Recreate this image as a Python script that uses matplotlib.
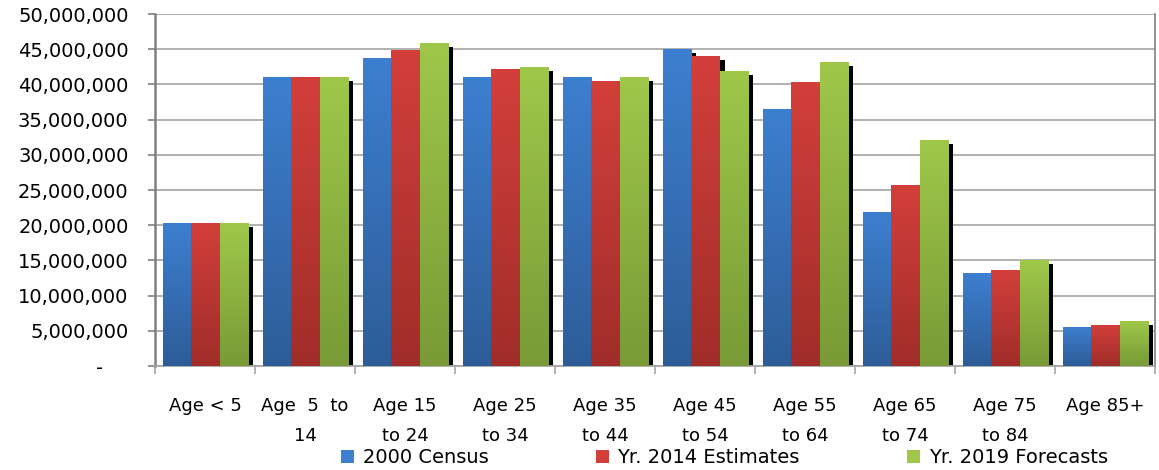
import numpy as np
import matplotlib
matplotlib.use("Agg")
import matplotlib.pyplot as plt
from matplotlib.colors import LinearSegmentedColormap
from matplotlib.patches import Patch
from matplotlib.transforms import ScaledTranslation
from matplotlib.ticker import FuncFormatter, MultipleLocator, FixedLocator

plt.rcParams["font.family"] = ["DejaVu Sans"]

categories = ["Age < 5", "Age  5  to\n14", "Age 15\nto 24", "Age 25\nto 34",
              "Age 35\nto 44", "Age 45\nto 54", "Age 55\nto 64", "Age 65\nto 74",
              "Age 75\nto 84", "Age 85+"]
series_names = ["2000 Census", "Yr. 2014 Estimates", "Yr. 2019 Forecasts"]
census_2000 = [20.3, 41.05, 43.75, 41.05, 41.05, 45.0, 36.5, 21.9, 13.2, 5.6]
est_2014 = [20.3, 41.05, 44.9, 42.2, 40.5, 44.0, 40.4, 25.7, 13.6, 5.85]
fc_2019 = [20.3, 41.05, 45.9, 42.5, 41.05, 41.9, 43.2, 32.1, 15.0, 6.4]
series = [np.array(s) * 1e6 for s in (census_2000, est_2014, fc_2019)]

# top (light) and bottom (dark) colour of each bar gradient
grad = [("#3d7fd0", "#2d5d98"), ("#d33f3b", "#a02d2a"), ("#9fc84a", "#799a36")]

fig = plt.figure(figsize=(11.59, 4.70), dpi=100)
ax = fig.add_axes([155 / 1159, 1 - 366 / 470, 1000 / 1159, 352 / 470])

x = np.arange(len(categories))
w = 0.283
offs = [-w + 0.005, 0.005, w + 0.005]

# drop shadows, shifted right/down in screen space
shift = ax.transData + ScaledTranslation(5 / 100, -4 / 100, fig.dpi_scale_trans)
for vals, o in zip(series, offs):
    sh = ax.bar(x + o, vals, w, color="black", linewidth=0, zorder=2)
    for p in sh:
        p.set_transform(shift)

ramp = np.linspace(0, 1, 256).reshape(-1, 1)
for vals, o, (top, bot) in zip(series, offs, grad):
    cmap = LinearSegmentedColormap.from_list("g", [bot, top])
    bars = ax.bar(x + o, vals, w, color=top, linewidth=0, zorder=3)
    for p in bars:
        im = ax.imshow(ramp, cmap=cmap, origin="lower", aspect="auto", zorder=3.5,
                       extent=[p.get_x(), p.get_x() + p.get_width(), 0, p.get_height()])
        im.set_clip_path(p)

ax.set_xlim(-0.5, len(categories) - 0.5)
ax.set_ylim(0, 50e6)

ax.yaxis.set_major_locator(MultipleLocator(5e6))
ax.yaxis.set_major_formatter(FuncFormatter(lambda v, _: "-    " if v == 0 else f"{v:,.0f}"))
ax.grid(axis="y", color="#ababab", linewidth=1.3, zorder=0)
ax.set_axisbelow(True)

ax.xaxis.set_major_locator(FixedLocator(np.arange(-0.5, len(categories), 1.0)))
ax.xaxis.set_major_formatter(FuncFormatter(lambda v, _: ""))
ax.xaxis.set_minor_locator(FixedLocator(x))
ax.set_xticklabels(categories, minor=True)
ax.tick_params(axis="x", which="major", length=5.5, width=1.2, color="#a6a6a6")
ax.tick_params(axis="x", which="minor", length=0, pad=22, labelsize=13)
for lab in ax.get_xticklabels(minor=True):
    lab.set_linespacing(1.9)
    lab.set_verticalalignment("top")
ax.tick_params(axis="y", length=5, width=1.2, color="#808080", pad=14, labelsize=14)

ax.spines["top"].set_visible(False)
ax.spines["left"].set_color("#808080")
ax.spines["left"].set_linewidth(1.8)
ax.spines["right"].set_color("#808080")
ax.spines["right"].set_linewidth(1.2)
ax.spines["bottom"].set_color("#a6a6a6")
ax.spines["bottom"].set_linewidth(1.3)

handles = [Patch(facecolor=top, edgecolor="none") for top, _ in grad]
fig.legend(handles, series_names, loc="center", bbox_to_anchor=(0.625, 0.026),
           ncol=3, frameon=False, fontsize=14, handlelength=0.68, handleheight=0.68,
           handletextpad=0.45, columnspacing=5.5, borderpad=0, borderaxespad=0)

fig.savefig("out.png", dpi=100)
